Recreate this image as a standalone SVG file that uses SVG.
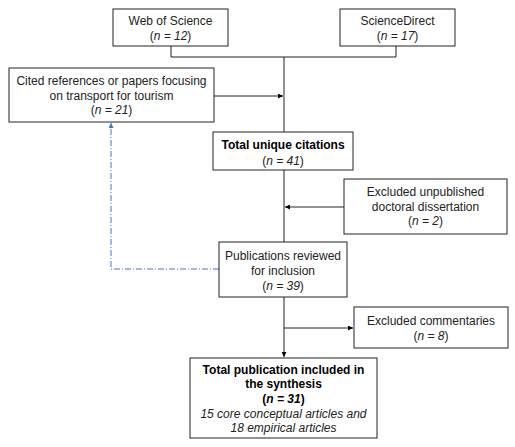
<svg xmlns="http://www.w3.org/2000/svg" width="515" height="447" viewBox="0 0 515 447">
<defs>
<style>
.box{fill:#fff;stroke:#222;stroke-width:1}
text{font-family:"Liberation Sans",Arial,sans-serif;font-size:12px;fill:#222;text-anchor:middle}
.b{font-weight:bold;fill:#000}
.i{font-style:italic}
.ln{fill:none;stroke:#222;stroke-width:1}
.dash{fill:none;stroke:#4472C4;stroke-width:1;stroke-dasharray:6,2,1,2}
</style>
<marker id="ah" viewBox="0 0 6 6" refX="6" refY="3" markerWidth="5" markerHeight="5" orient="auto" markerUnits="userSpaceOnUse"><path d="M0,0 L6,3 L0,6 z" fill="#000"/></marker>
<marker id="ahb" viewBox="0 0 6 6" refX="6" refY="3" markerWidth="5" markerHeight="5" orient="auto" markerUnits="userSpaceOnUse"><path d="M0,0 L6,3 L0,6 z" fill="#4472C4"/></marker>
</defs>
<rect width="515" height="447" fill="#fff"/>
<g id="connectors">
<path class="ln" d="M171,46 V57 H396 V46"/>
<path class="ln" d="M284,57 V132"/>
<path class="ln" d="M214,96 H283" marker-end="url(#ah)"/>
<path class="ln" d="M284,170 V242"/>
<path class="ln" d="M344,207 H285" marker-end="url(#ah)"/>
<path class="ln" d="M284,297 V357" marker-end="url(#ah)"/>
<path class="ln" d="M284,328 H353" marker-end="url(#ah)"/>
<path class="dash" d="M219,269 H111 V123" marker-end="url(#ahb)"/>
</g>
<g id="wos"><rect class="box" x="113" y="9" width="115" height="37"/><text x="170.5" y="25">Web of Science</text><text x="170.5" y="40">(<tspan class="i">n = 12</tspan>)</text></g>
<g id="sd"><rect class="box" x="340" y="9" width="115" height="37"/><text x="397.5" y="25">ScienceDirect</text><text x="397.5" y="40">(<tspan class="i">n = 17</tspan>)</text></g>
<g id="cited"><rect class="box" x="9" y="68" width="205" height="54"/><text x="111.5" y="85">Cited references or papers focusing</text><text x="111.5" y="99.5">on transport for tourism</text><text x="111.5" y="114">(<tspan class="i">n = 21</tspan>)</text></g>
<g id="unique"><rect class="box" x="213" y="132" width="140" height="38"/><text class="b" x="283" y="148.5">Total unique citations</text><text x="283" y="165">(<tspan class="i">n = 41</tspan>)</text></g>
<g id="excl1"><rect class="box" x="344" y="179" width="163" height="55"/><text x="425.5" y="196">Excluded unpublished</text><text x="425.5" y="210.5">doctoral dissertation</text><text x="425.5" y="225">(<tspan class="i">n = 2</tspan>)</text></g>
<g id="reviewed"><rect class="box" x="219" y="242" width="128" height="55"/><text x="283" y="260">Publications reviewed</text><text x="283" y="274.5">for inclusion</text><text x="283" y="290">(<tspan class="i">n = 39</tspan>)</text></g>
<g id="excl2"><rect class="box" x="354" y="307" width="154" height="41"/><text x="431" y="325">Excluded commentaries</text><text x="431" y="339.5">(<tspan class="i">n = 8</tspan>)</text></g>
<g id="final"><rect class="box" x="190" y="358" width="187" height="80"/><text class="b" x="283.5" y="373.5">Total publication included in</text><text class="b" x="283.5" y="388">the synthesis</text><text class="b" x="283.5" y="402.5">(<tspan class="i">n = 31</tspan>)</text><text class="i" x="283.5" y="417.5">15 core conceptual articles and</text><text class="i" x="283.5" y="431.5">18 empirical articles</text></g>
</svg>
